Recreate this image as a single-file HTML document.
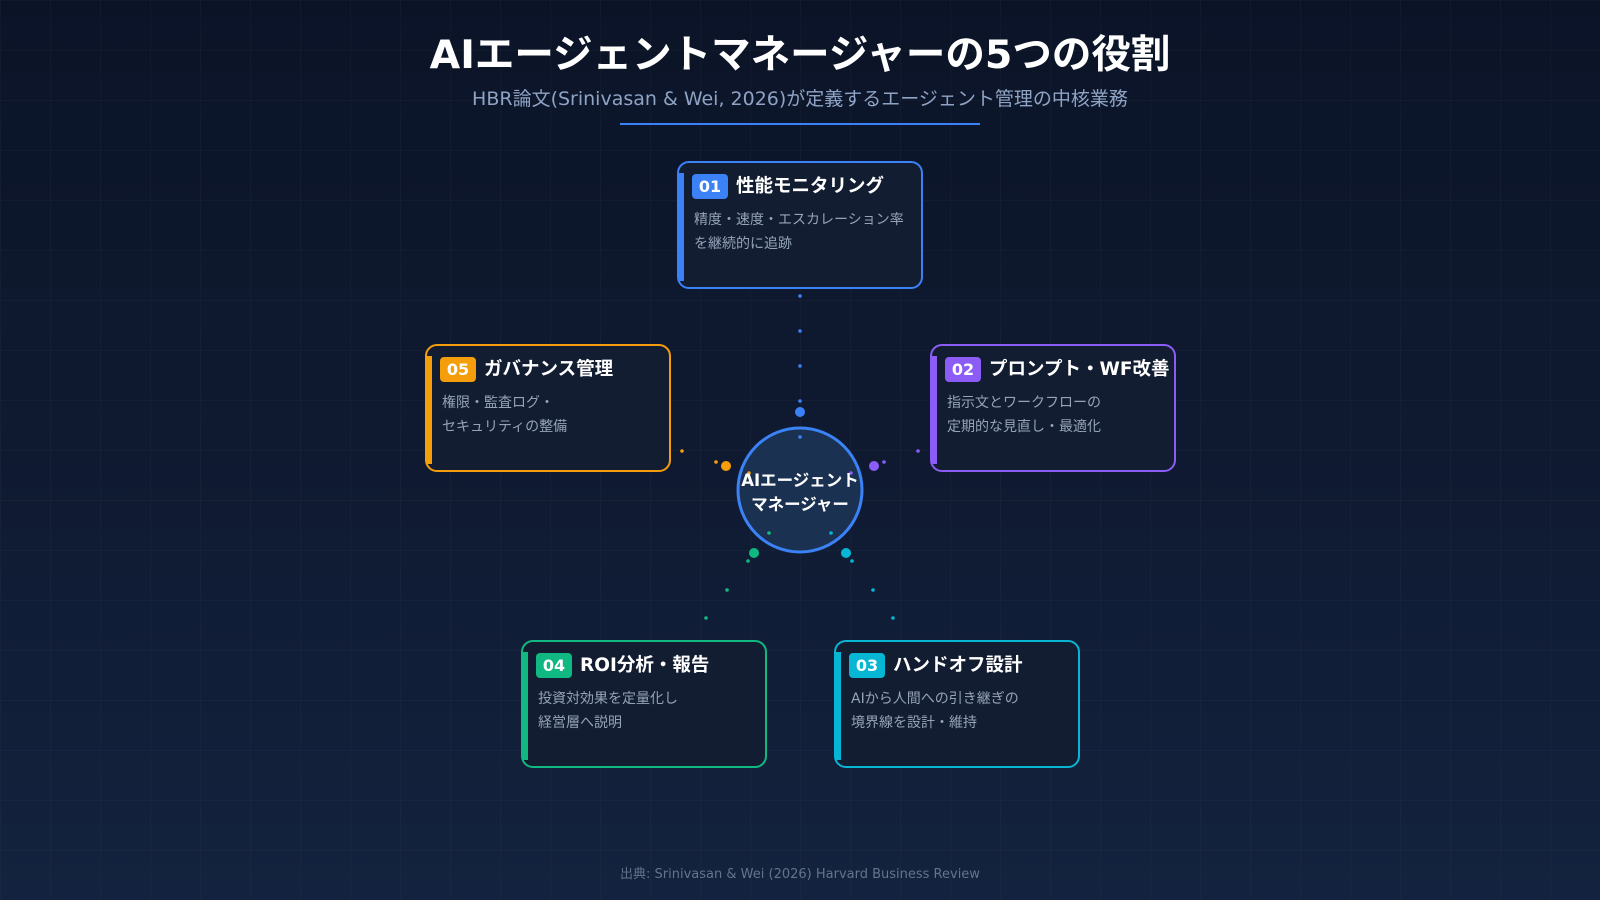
<!DOCTYPE html>
<html><head><meta charset="utf-8"><style>
body{margin:0;width:1600px;height:900px;overflow:hidden;background:linear-gradient(180deg,#0b1427 0%,#0f1a31 50%,#13223e 100%);font-family:"DejaVu Sans","Noto Sans CJK JP",sans-serif;position:relative}
.grid{position:absolute;inset:0;background-image:linear-gradient(rgba(255,255,255,0.025) 1px,transparent 1px),linear-gradient(90deg,rgba(255,255,255,0.025) 1px,transparent 1px);background-size:50px 50px}
.t{position:absolute;left:0;width:1600px;text-align:center}
.box{position:absolute;width:242px;height:124px;border:2px solid;border-radius:12px;background:#131d31;box-sizing:content-box}
.bar{position:absolute;left:0;top:10px;width:5px;height:108px}
.badge{position:absolute;left:13px;top:11px;width:36px;height:25px;border-radius:4px;color:#fff;font-weight:bold;font-size:16px;line-height:25px;text-align:center}
.ti{position:absolute;left:57px;top:11px;color:#fff;font-weight:bold;font-size:18.5px;line-height:26px;white-space:nowrap}
.d{position:absolute;left:15px;top:45px;color:#94a3b8;font-size:14px;line-height:24px;white-space:nowrap}
</style></head><body>
<div class="grid"></div>
<div class="t" style="top:31px;font-size:39.5px;font-weight:bold;color:#fff;line-height:48px">AIエージェントマネージャーの5つの役割</div>
<div class="t" style="top:87px;font-size:19px;color:#8fa3c4;line-height:24px">HBR論文(Srinivasan &amp; Wei, 2026)が定義するエージェント管理の中核業務</div>
<div style="position:absolute;left:620px;top:123px;width:360px;height:2px;background:#3b82f6"></div>
<svg width="1600" height="900" style="position:absolute;left:0;top:0">
<circle cx="800" cy="490" r="62" fill="#1b3152" stroke="#3b82f6" stroke-width="3"/>
<g fill="#3b82f6"><circle cx="800" cy="296" r="1.8"/><circle cx="800" cy="331" r="1.8"/><circle cx="800" cy="366" r="1.8"/><circle cx="800" cy="401" r="1.8"/><circle cx="800" cy="412" r="5"/><circle cx="800" cy="437" r="1.8"/></g>
<g fill="#f59e0b"><circle cx="682" cy="451" r="1.8"/><circle cx="716" cy="462" r="1.8"/><circle cx="726" cy="466" r="5"/><circle cx="749" cy="473" r="1.8"/></g>
<g fill="#8b5cf6"><circle cx="918" cy="451" r="1.8"/><circle cx="884" cy="462" r="1.8"/><circle cx="874" cy="466" r="5"/><circle cx="851" cy="473" r="1.8"/></g>
<g fill="#10b981"><circle cx="769" cy="533" r="1.8"/><circle cx="754" cy="553" r="5"/><circle cx="748" cy="561" r="1.8"/><circle cx="727" cy="590" r="1.8"/><circle cx="706" cy="618" r="1.8"/></g>
<g fill="#06b6d4"><circle cx="831" cy="533" r="1.8"/><circle cx="846" cy="553" r="5"/><circle cx="852" cy="561" r="1.8"/><circle cx="873" cy="590" r="1.8"/><circle cx="893" cy="618" r="1.8"/></g>
<text x="800" y="486" text-anchor="middle" fill="#fff" font-weight="bold" font-size="16.5" font-family="DejaVu Sans,Noto Sans CJK JP,sans-serif">AIエージェント</text>
<text x="800" y="510" text-anchor="middle" fill="#fff" font-weight="bold" font-size="16.5" font-family="DejaVu Sans,Noto Sans CJK JP,sans-serif">マネージャー</text>
</svg>

<div class="box" style="left:677px;top:161px;border-color:#3b82f6"><div class="bar" style="background:#3b82f6"></div><div class="badge" style="background:#3b82f6">01</div><div class="ti">性能モニタリング</div><div class="d">精度・速度・エスカレーション率<br>を継続的に追跡</div></div>
<div class="box" style="left:425px;top:344px;border-color:#f59e0b"><div class="bar" style="background:#f59e0b"></div><div class="badge" style="background:#f59e0b">05</div><div class="ti">ガバナンス管理</div><div class="d">権限・監査ログ・<br>セキュリティの整備</div></div>
<div class="box" style="left:930px;top:344px;border-color:#8b5cf6"><div class="bar" style="background:#8b5cf6"></div><div class="badge" style="background:#8b5cf6">02</div><div class="ti">プロンプト・WF改善</div><div class="d">指示文とワークフローの<br>定期的な見直し・最適化</div></div>
<div class="box" style="left:521px;top:640px;border-color:#10b981"><div class="bar" style="background:#10b981"></div><div class="badge" style="background:#10b981">04</div><div class="ti">ROI分析・報告</div><div class="d">投資対効果を定量化し<br>経営層へ説明</div></div>
<div class="box" style="left:834px;top:640px;border-color:#06b6d4"><div class="bar" style="background:#06b6d4"></div><div class="badge" style="background:#06b6d4">03</div><div class="ti">ハンドオフ設計</div><div class="d">AIから人間への引き継ぎの<br>境界線を設計・維持</div></div>

<div class="t" style="top:867px;font-size:13px;color:#64748b;line-height:16px">出典: Srinivasan &amp; Wei (2026) Harvard Business Review</div>
</body></html>
